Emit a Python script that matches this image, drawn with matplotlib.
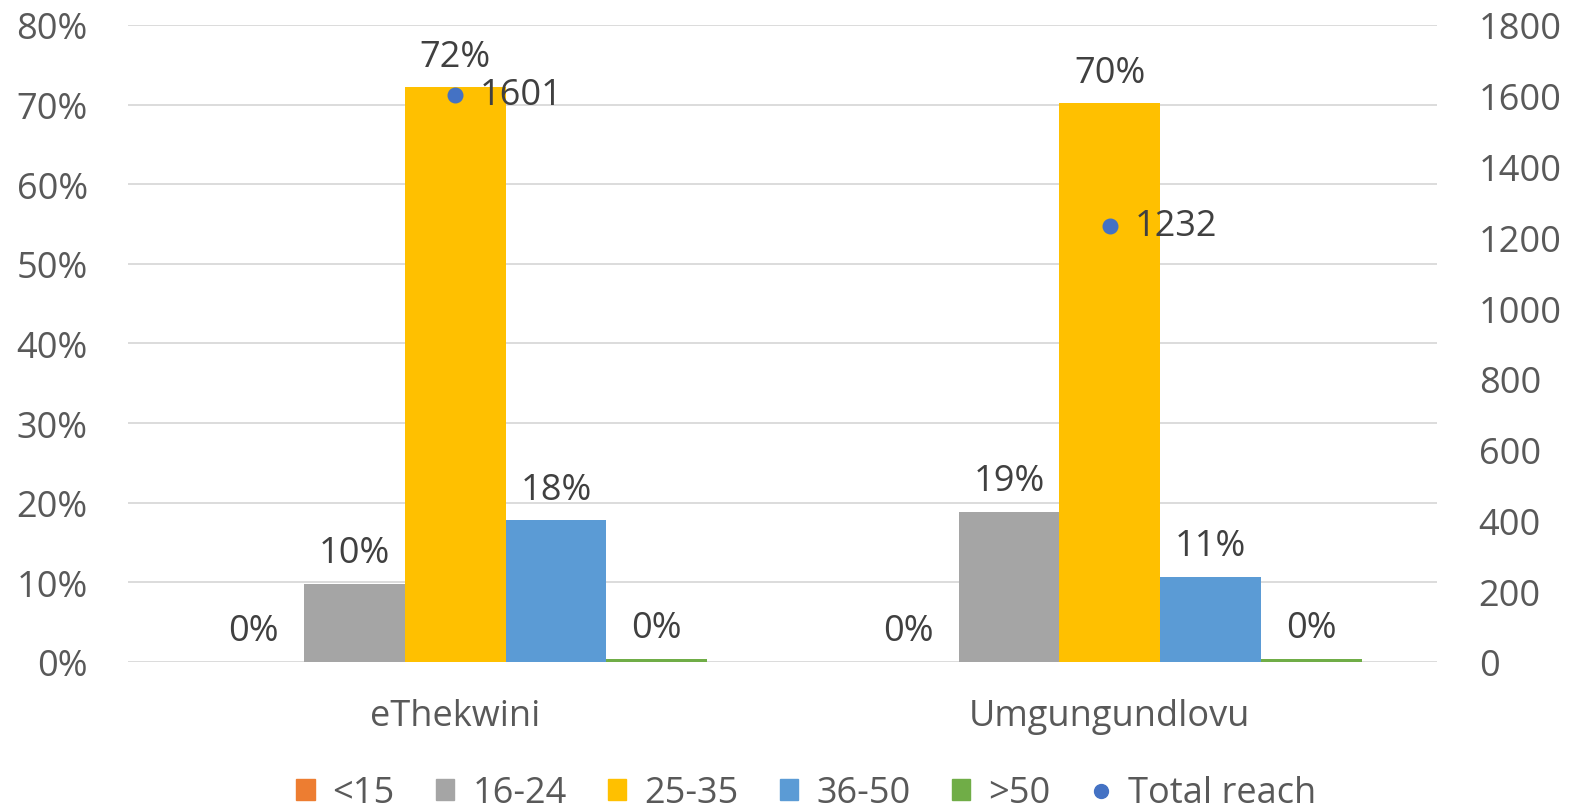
import matplotlib
matplotlib.use("Agg")
import matplotlib.pyplot as plt
from matplotlib.lines import Line2D
from matplotlib.patches import Patch
import numpy as np

plt.rcParams['font.family'] = ['Open Sans', 'DejaVu Sans']

categories = ["eThekwini", "Umgungundlovu"]
series_names = ["<15", "16-24", "25-35", "36-50", ">50"]
series_values = {
    "<15": [0.0, 0.0],
    "16-24": [9.8, 18.9],
    "25-35": [72.2, 70.2],
    "36-50": [17.8, 10.7],
    ">50": [0.4, 0.4],
}
series_labels = {
    "<15": ["0%", "0%"],
    "16-24": ["10%", "19%"],
    "25-35": ["72%", "70%"],
    "36-50": ["18%", "11%"],
    ">50": ["0%", "0%"],
}
colors = ["#ED7D31", "#A5A5A5", "#FFC000", "#5B9BD5", "#70AD47"]
total_reach = [1601, 1232]
left_ticks = [0, 10, 20, 30, 40, 50, 60, 70, 80]
right_ticks = [0, 200, 400, 600, 800, 1000, 1200, 1400, 1600, 1800]

fig = plt.figure(figsize=(15.72, 8.12), dpi=100)
ax = fig.add_axes([0.0814, 0.1835, 0.8327, 0.7845])
ax2 = ax.twinx()

x = np.arange(len(categories))
w = 0.154
tick_color = "#595959"
lab_color = "#404040"
fs = 26

for i, name in enumerate(series_names):
    off = (i - 2) * w
    vals = series_values[name]
    ax.bar(x + off, vals, width=w, color=colors[i], zorder=3)
    for j, v in enumerate(vals):
        ax.annotate(series_labels[name][j], (x[j] + off, v), xytext=(0, 9),
                    textcoords="offset points", ha="center", va="bottom",
                    fontsize=fs, color=lab_color)

ax.set_xlim(-0.5, 1.5)
ax.set_ylim(0, 80)
ax.set_yticks(left_ticks)
ax.set_yticklabels([f"{t}%" for t in left_ticks])
ax.set_xticks(x)
ax.set_xticklabels(categories)
ax.grid(axis="y", color="#D9D9D9", linewidth=1.3, zorder=0)
ax.set_axisbelow(True)
for s in ax.spines.values():
    s.set_visible(False)
ax.tick_params(axis="both", length=0, labelsize=fs, colors=tick_color)
ax.tick_params(axis="y", pad=29)
ax.tick_params(axis="x", pad=26)

ax2.set_ylim(0, 1800)
ax2.set_yticks(right_ticks)
ax2.plot(x, total_reach, linestyle="none", marker="o", markersize=10.5,
         color="#4472C4", zorder=5)
for j, v in enumerate(total_reach):
    ax2.annotate(str(v), (x[j], v), xytext=(18, 0), textcoords="offset points",
                 ha="left", va="center", fontsize=fs, color=lab_color)
for s in ax2.spines.values():
    s.set_visible(False)
ax2.tick_params(axis="y", length=0, labelsize=fs, colors=tick_color, pad=30)

handles = [Patch(color=c, label=n) for c, n in zip(colors, series_names)]
handles.append(Line2D([], [], linestyle="none", marker="o", markersize=10,
                      color="#4472C4", label="Total reach"))
fig.legend(handles=handles, loc="center", bbox_to_anchor=(0.513, 0.022), ncol=6,
           frameon=False, fontsize=fs, handlelength=0.5, handleheight=0.5,
           handletextpad=0.5, columnspacing=1.15, labelcolor=tick_color)

fig.savefig("out.png", dpi=100)
